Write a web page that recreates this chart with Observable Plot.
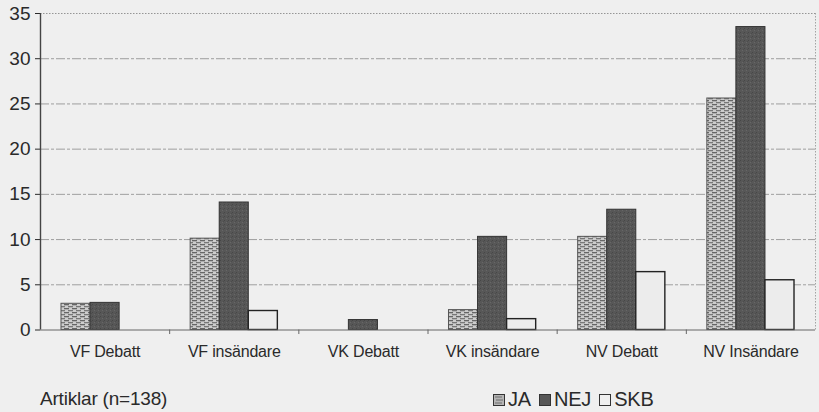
<!DOCTYPE html>
<html>
<head>
<meta charset="utf-8">
<script src="https://cdn.jsdelivr.net/npm/d3@7"></script>
<script src="https://cdn.jsdelivr.net/npm/@observablehq/plot@0.6"></script>
<style>
  html, body { margin: 0; padding: 0; background: #efefef; }
  #wrap { position: relative; width: 819px; height: 412px; overflow: hidden; background: #efefef; }
  #chart svg { display: block; }
  #chart svg text { fill: #2a2a2a; }
  #chart svg g[aria-label^="x-axis"] text { font-family: "Liberation Sans", Arial, sans-serif; font-size: 16px; letter-spacing: -0.2px; }
  #chart svg g[aria-label^="y-axis"] text { font-family: "Liberation Sans", Arial, sans-serif; font-size: 19px; }
  #caption { position: absolute; left: 40px; top: 388px; font-family: "Liberation Sans", Arial, sans-serif; font-size: 19px; color: #2a2a2a; letter-spacing: -0.2px; }
  #legend { position: absolute; left: 493px; top: 388px; font-family: "Liberation Sans", Arial, sans-serif; font-size: 20px; color: #2a2a2a; display: flex; align-items: center; letter-spacing: -0.2px; }
  #legend .item { display: flex; align-items: center; margin-right: 8px; }
  #legend svg { margin-right: 3px; display: block; }
</style>
</head>
<body>
<div id="wrap">
  <div id="chart"></div>
  <div id="caption"></div>
  <div id="legend"></div>
</div>
<script>
// ---- data ----
const categories = ["VF Debatt", "VF insändare", "VK Debatt", "VK insändare", "NV Debatt", "NV Insändare"];
const seriesNames = ["JA", "NEJ", "SKB"];
const jaValues  = [2.9, 10.1, 0,   2.2, 10.3, 25.6];
const nejValues = [3.0, 14.1, 1.1, 10.3, 13.3, 33.5];
const skbValues = [0,   2.1,  0,   1.2, 6.4,  5.5];
const yTicks = [0, 5, 10, 15, 20, 25, 30, 35];
const captionText = "Artiklar (n=138)";

// ---- build table ----
const valuesBySeries = [jaValues, nejValues, skbValues];
const rows = categories.flatMap((cat, i) =>
  seriesNames.map((s, k) => ({ cat, i, series: s, k, value: valuesBySeries[k][i] }))
).filter(d => d.value > 0);

const barW = 0.225;                    // bar width as fraction of a group
const groupInset = (1 - 3 * barW) / 2;

const fills = { JA: "url(#patJA)", NEJ: "url(#patNEJ)", SKB: "#ececec" };
const strokes = { JA: "#555", NEJ: "#333", SKB: "#222" };

function bars(name) {
  return Plot.rect(rows.filter(d => d.series === name), {
    x1: d => d.i + groupInset + d.k * barW,
    x2: d => d.i + groupInset + (d.k + 1) * barW,
    y1: 0,
    y2: "value",
    fill: fills[name],
    stroke: strokes[name],
    strokeWidth: name === "SKB" ? 1.4 : 1
  });
}

const plot = Plot.plot({
  width: 819,
  height: 370,
  marginLeft: 40,
  marginRight: 4,
  marginTop: 13,
  marginBottom: 40.5,
  style: { background: "transparent", fontFamily: "Liberation Sans, Arial, sans-serif", color: "#2a2a2a" },
  x: {
    domain: [0, categories.length],
    ticks: categories.map((c, i) => i + 0.5),
    tickFormat: t => categories[Math.round(t - 0.5)],
    tickSize: 0,
    tickPadding: 16,
    label: null
  },
  y: {
    domain: [0, 35],
    ticks: yTicks,
    tickSize: 5,
    tickPadding: 5,
    label: null
  },
  marks: [
    Plot.ruleY(yTicks.filter(t => t > 0 && t < 35), { stroke: "#8a8a8a", strokeWidth: 0.8, strokeDasharray: "9,2,3,2" }),
    Plot.ruleY([35], { stroke: "#8a8a8a", strokeWidth: 0.9, strokeDasharray: "1.5,1.5" }),
    Plot.ruleX([categories.length], { stroke: "#9a9a9a", strokeWidth: 0.9, strokeDasharray: "1.5,1.5" }),
    bars("JA"),
    bars("NEJ"),
    bars("SKB"),
    Plot.ruleY([0], { stroke: "#666", strokeWidth: 1 }),
    Plot.ruleX(d3.range(1, categories.length), { y1: 0, y2: -0.5, stroke: "#666" }),
    Plot.ruleX([0], { stroke: "#444", strokeWidth: 1.4 })
  ]
});

// patterns
const defsHTML = `
<pattern id="patJA" patternUnits="userSpaceOnUse" width="8" height="4">
  <rect width="8" height="4" fill="#cdcdcd"/>
  <rect x="0" y="0" width="5" height="1.3" fill="#666"/>
  <rect x="4" y="2" width="5" height="1.3" fill="#787878"/>
  <rect x="-4" y="2" width="5" height="1.3" fill="#787878"/>
</pattern>
<pattern id="patNEJ" patternUnits="userSpaceOnUse" width="4" height="4">
  <rect width="4" height="4" fill="#575757"/>
  <rect x="0" y="0" width="1" height="1" fill="#474747"/>
  <rect x="2" y="2" width="1" height="1" fill="#676767"/>
  <rect x="3" y="1" width="1" height="1" fill="#4d4d4d"/>
</pattern>`;
const defs = document.createElementNS("http://www.w3.org/2000/svg", "defs");
defs.innerHTML = defsHTML;
plot.insertBefore(defs, plot.firstChild);
document.getElementById("chart").appendChild(plot);

// legend
const legend = document.getElementById("legend");
seriesNames.forEach(name => {
  const item = document.createElement("div");
  item.className = "item";
  const f = name === "JA" ? "#b5b5b5" : name === "NEJ" ? "#575757" : "#efefef";
  item.innerHTML = `<svg width="12" height="12"><rect x="0.5" y="0.5" width="11" height="11" fill="${f}" stroke="#333" stroke-width="1"/>${name === "JA" ? '<path d="M2 3h7M3 6h7M2 9h7" stroke="#666" stroke-width="0.9"/>' : ''}</svg><span>${name}</span>`;
  legend.appendChild(item);
});
document.getElementById("caption").textContent = captionText;
</script>
</body>
</html>
